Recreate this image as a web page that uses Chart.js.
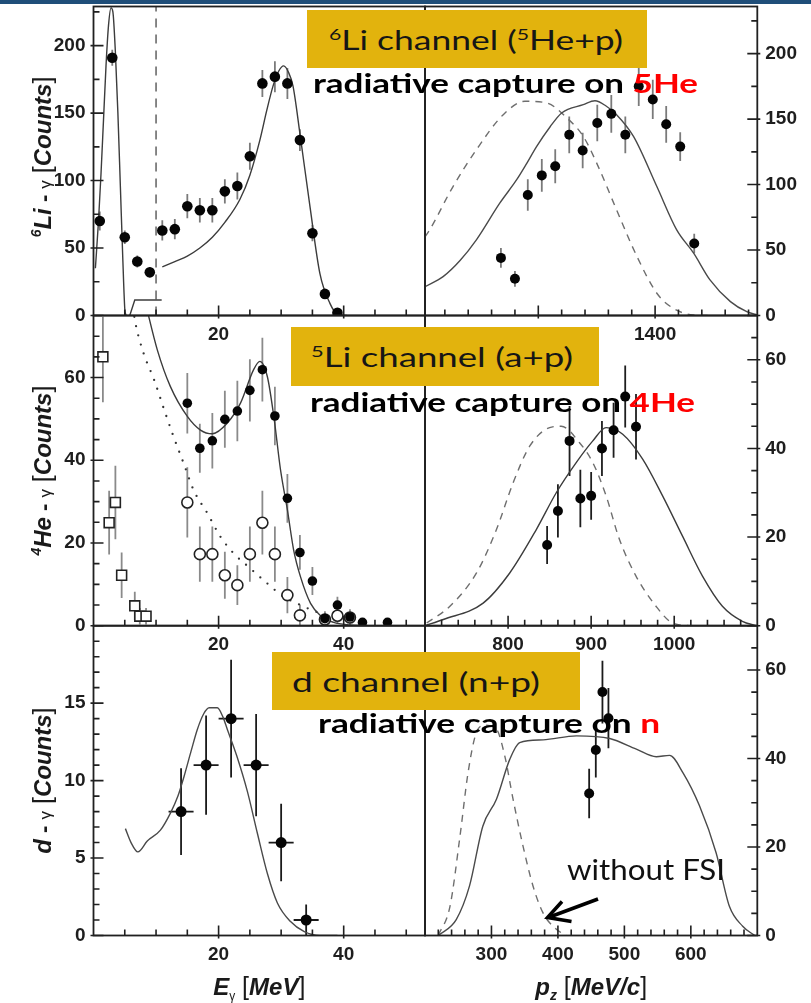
<!DOCTYPE html>
<html>
<head>
<meta charset="utf-8">
<script src="https://cdn.jsdelivr.net/npm/chart.js@4.4.1/dist/chart.umd.min.js"></script>
<style>
  html, body { margin: 0; padding: 0; background: #fff; }
  body { width: 811px; height: 1003px; position: relative; overflow: hidden; }
  canvas.panel { position: absolute; left: 0; top: 0; }
  .topbar { position: absolute; left: 0; top: 0; width: 811px; height: 4px; background: #1f4e79; z-index: 5; }
  .tag { position: absolute; background: #e2b30d; display: flex; align-items: center; box-sizing: border-box;
         font-family: Lato, sans-serif; font-size: 27px; color: #161616; white-space: nowrap; z-index: 5; }
  .tag sup { font-size: 60%; vertical-align: 0.6em; line-height: 0; }
  .note { position: absolute; font-family: Lato, sans-serif; font-weight: bold; font-size: 26px; line-height: 1;
          color: #000; white-space: nowrap; z-index: 5; }
  .note .red { color: #ff0000; }
  .plain { position: absolute; font-family: Lato, sans-serif; font-size: 28px; line-height: 1; color: #111;
           white-space: nowrap; z-index: 5; }
  .fit { display: inline-block; transform-origin: 0 50%; }
  svg.arrow { position: absolute; left: 0; top: 0; z-index: 5; }
</style>
</head>
<body>
<canvas class="panel" id="liE" width="811" height="1003"></canvas>
<canvas class="panel" id="liP" width="811" height="1003"></canvas>
<canvas class="panel" id="heE" width="811" height="1003"></canvas>
<canvas class="panel" id="heP" width="811" height="1003"></canvas>
<canvas class="panel" id="dE" width="811" height="1003"></canvas>
<canvas class="panel" id="dP" width="811" height="1003"></canvas>

<div class="topbar"></div>

<div class="tag" style="left:307px;top:10px;width:340px;height:58px;padding-left:22px">
  <span class="fit" data-w="294"><sup>6</sup>Li channel (<sup>5</sup>He+p)</span></div>
<div class="note" style="left:313px;top:70px"><span class="fit" data-w="385">radiative capture on <span class="red">5He</span></span></div>

<div class="tag" style="left:291px;top:327px;width:308px;height:59px;padding-left:20px">
  <span class="fit" data-w="262"><sup>5</sup>Li channel (a+p)</span></div>
<div class="note" style="left:310px;top:389px"><span class="fit" data-w="385">radiative capture on <span class="red">4He</span></span></div>

<div class="tag" style="left:272px;top:652px;width:308px;height:58px;padding-left:20px">
  <span class="fit" data-w="248">d channel (n+p)</span></div>
<div class="note" style="left:318px;top:710px"><span class="fit" data-w="342">radiative capture on <span class="red">n</span></span></div>

<div class="plain" style="left:567px;top:855px"><span class="fit" data-w="158">without FSI</span></div>
<svg class="arrow" width="811" height="1003">
  <line x1="598" y1="899" x2="551" y2="916.5" stroke="#000" stroke-width="3.5"/>
  <polyline points="562,901.5 547.5,917.5 571.5,921.5" fill="none" stroke="#000" stroke-width="3.5"/>
</svg>

<script>
// ---------- 6Li channel ----------
const liEnergy = [1, 3, 5, 7, 9, 11, 13, 15, 17, 19, 21, 23, 25, 27, 29, 31, 33, 35, 37, 39];
const liCounts = [70, 191, 58, 40, 32, 63, 64, 81, 78, 78, 92, 96, 118, 172, 177, 172, 130, 61, 16, 2];
const liErrors = [7, 6, 5, 4.5, 4, 7.5, 7.5, 9, 9, 9, 9, 10, 10, 10, 11.5, 11.5, 8, 6, 3, 1.5];
const liPeakFitE = [0.3, 0.8, 1.2, 1.6, 2.0, 2.4, 2.8, 3.1, 3.5, 3.9, 4.3, 4.7, 5.0, 5.2];
const liPeakFitC = [35, 70, 105, 145, 185, 215, 228, 225, 195, 150, 95, 40, 5, 0];
const liStepE = [5.8, 6.6, 10.9];
const liStepC = [0, 11.5, 11.5];
const liFitE = [11, 13, 15, 17, 19, 21, 23.4, 25, 26.6, 27.7, 28.7, 29.6, 30.4, 31.2, 31.9, 33, 34.6, 36.2, 37.8, 39, 40.5];
const liFitC = [36, 40, 44, 50, 58, 69, 86, 104, 130, 152, 170, 181, 185, 180, 170, 135, 81, 31, 9, 1, 0];
const liCutE = [10, 10];
const liCutC = [0, 229];

const liMom = [1136, 1160, 1182, 1206, 1229, 1253, 1276, 1301, 1325, 1349, 1372, 1396, 1419, 1443, 1467];
const liMomCounts = [44, 28, 92, 107, 114, 138, 126, 147, 154, 138, 175, 165, 146, 129, 55];
const liMomErrors = [7.5, 6, 12, 12.5, 13, 14, 13.5, 14, 14.5, 14, 15, 15, 14, 11, 7.5];
const liMomFsiP = [1006, 1037, 1066, 1094, 1134, 1163, 1180, 1197, 1220, 1240, 1277, 1297, 1316, 1334, 1363, 1403, 1437, 1466, 1494, 1529, 1557, 1575];
const liMomFsiC = [22, 29.7, 42, 57.8, 85.8, 103.7, 116, 129, 144, 154.7, 161, 164, 160, 153.4, 136.8, 98.5, 65.4, 47.6, 27.2, 10.6, 2.9, 0.4];
const liMomNoFsiP = [1006, 1014, 1054, 1094, 1140, 1177, 1214, 1249, 1277, 1300, 1334, 1369, 1403, 1431, 1465, 1490];
const liMomNoFsiC = [60, 65.4, 98.5, 126.6, 153.4, 163.6, 162.4, 150.9, 136.8, 116.4, 80.7, 45, 17, 5.5, 0.4, 0];

// ---------- 5Li channel ----------
const heEnergy = [15, 17, 19, 21, 23, 25, 27, 29, 31, 33, 35, 37, 39, 41, 43, 47];
const heCounts = [53.8, 42.9, 44.7, 49.9, 51.9, 56.9, 61.9, 50.7, 30.8, 17.7, 10.8, 1.7, 5, 2.1, 0.8, 0.8];
const heErrors = [7.3, 5.9, 6.7, 6.9, 7.3, 7.5, 7.7, 7.1, 5.9, 4.2, 3.4, 1.5, 2, 1.5, 1, 1];
const heOpenE = [15, 17, 19, 21, 23, 25, 27, 29, 31, 33, 37, 39, 41];
const heOpenC = [29.8, 17.3, 17.3, 12.2, 9.8, 17.3, 24.9, 17.3, 7.4, 2.5, 1.5, 2.4, 2];
const heOpenErr = [8.5, 6.7, 6.7, 5.7, 4.8, 6.7, 7.7, 6.7, 4.4, 2.6, 2, 2, 2];
const heSquareE = [1.5, 2.5, 3.5, 4.5, 6.6, 7.4, 8.4];
const heSquareC = [65, 24.9, 29.8, 12.2, 4.8, 2.3, 2.3];
const heSquareErr = [11, 7.7, 8.9, 5.5, 3.4, 2, 2];
const heFitE = [8.3, 10.2, 12.3, 15, 17.1, 19, 21.4, 23.5, 25.6, 26.6, 27.8, 28.9, 29.9, 31, 32, 33.1, 34.7, 36.3, 38.4, 41, 44];
const heFitC = [78, 66.7, 57.8, 50.6, 47.3, 46.4, 49, 53.8, 61.9, 63.9, 60.2, 49.8, 37.7, 28, 18.3, 11.8, 5.4, 2.4, 0.8, 0.2, 0];
const heBgE = [6.3, 6.7, 8, 9.7, 11.3, 12.8, 14.4, 16, 18.2, 20.3, 22.4, 25.1, 27.8, 30.4, 33.1, 35.7, 38.4, 41];
const heBgC = [77, 73.2, 65.9, 59.4, 52.2, 45.7, 39.3, 32.8, 27.2, 21.5, 17.5, 13.8, 10.2, 7, 5, 3.3, 2.1, 1.2];

const heMom = [847, 860, 874, 887, 900, 913, 927, 941, 954];
const heMomCounts = [18.2, 25.9, 41.7, 28.7, 29.3, 40, 44.1, 51.7, 44.9];
const heMomErrors = [4.3, 6, 7.9, 6.5, 5.4, 6.2, 6.2, 7, 7.4];
const heMomFsiP = [700, 722, 770, 802, 834, 858, 882, 902, 918, 938, 962, 986, 1010, 1034, 1058, 1082, 1099];
const heMomFsiC = [0, 1.4, 5.1, 11.9, 21.7, 30, 36.8, 41.7, 44.7, 43.2, 37.6, 29.3, 20.2, 11.2, 4.4, 1, 0];
const heMomNoFsiP = [702, 730, 762, 786, 806, 826, 850, 864, 886, 902, 918, 934, 954, 978, 998, 1018];
const heMomNoFsiC = [0.6, 4.4, 11.9, 21.7, 32.2, 40.5, 44.7, 45, 41.3, 36.8, 29.3, 19.5, 11.2, 4.4, 0.6, 0];

// ---------- d channel ----------
const dEnergy = [14, 18, 22, 26, 30, 34];
const dCounts = [8, 11, 14, 11, 6, 1];
const dErrors = [2.8, 3.2, 3.8, 3.3, 2.5, 1];
const dBinHalf = [2, 2, 2, 2, 2, 2];
const dFitE = [5.1, 6, 7.1, 8.6, 10.7, 12.3, 13.5, 14.5, 15.6, 16.6, 17.6, 18.5, 19.8, 20.7, 21.4, 22.9, 24.6, 26.2, 27.8, 29.4, 31.5, 33.7, 36.2, 39];
const dFitC = [6.9, 6.0, 5.4, 6.1, 6.8, 7.9, 9.0, 10.3, 11.9, 13.3, 14.3, 14.7, 14.7, 14.1, 13.3, 11.6, 9.3, 6.6, 4.0, 2.1, 0.9, 0.25, 0, 0];

const dMom = [447, 457, 467, 476];
const dMomCounts = [32.1, 41.9, 55, 49.1];
const dMomErrors = [5.6, 6.2, 7.1, 6.8];
const dMomFsiP = [220, 247, 267, 287, 307.5, 327.5, 342.5, 377.6, 427.8, 478, 518, 548, 568, 588, 613, 638, 658, 678, 696];
const dMomFsiC = [0, 3.6, 11.2, 24.7, 30.8, 39.8, 43.6, 44.2, 45.1, 44.5, 42.1, 40.4, 40.7, 36.8, 29.3, 18.7, 6.6, 2.1, 0];
const dMomNoFsiP = [220, 237.6, 252.7, 264.8, 277.4, 290, 307.5, 320, 332.5, 347.5, 362.5, 377.6, 397.7, 412.8];
const dMomNoFsiC = [0, 6.6, 22.5, 36.8, 45.9, 47.5, 46.6, 40.6, 30.8, 20.2, 11.2, 5.1, 1.4, 0];

// ---------- tick labels ----------
const energyTicks = [20, 40];
const liMomTicks = [1200, 1400];
const heMomTicks = [800, 900, 1000];
const dMomTicks = [300, 400, 500, 600];
const liCountTicks = [0, 50, 100, 150, 200];
const heCountTicks = [0, 20, 40, 60];
const dCountTicks = [0, 5, 10, 15];

const pts = (xs, ys) => xs.map((x, i) => ({ x, y: ys[i] }));
const steps = (lo, hi, st) => { const a = []; for (let v = lo; v <= hi + 1e-9; v += st) a.push(v); return a; };

const TICK_FONT = { family: '"Liberation Sans", Arial, sans-serif', size: 19, weight: 'bold' };
const FAM = '"Liberation Sans", Arial, sans-serif';

// frame box and inward tick marks
const frameTicks = {
  id: 'frameTicks',
  afterDraw(chart, args, o) {
    const { ctx, chartArea: a, scales: { x, y } } = chart;
    ctx.save();
    ctx.strokeStyle = '#202020';
    ctx.lineWidth = 1.8;
    ctx.strokeRect(a.left, a.top, a.right - a.left, a.bottom - a.top);
    ctx.lineWidth = 1.6;
    ctx.beginPath();
    o.xMajor.forEach(v => { const p = x.getPixelForValue(v); ctx.moveTo(p, a.bottom + 3); ctx.lineTo(p, a.bottom - 10); });
    o.xMinor.forEach(v => { const p = x.getPixelForValue(v); ctx.moveTo(p, a.bottom); ctx.lineTo(p, a.bottom - 6); });
    const edge = o.yRight ? a.right : a.left, dir = o.yRight ? -1 : 1;
    o.yMajor.forEach(v => { const p = y.getPixelForValue(v); ctx.moveTo(edge - 3 * dir, p); ctx.lineTo(edge + 10 * dir, p); });
    o.yMinor.forEach(v => { const p = y.getPixelForValue(v); ctx.moveTo(edge, p); ctx.lineTo(edge + 6 * dir, p); });
    ctx.stroke();
    ctx.restore();
  }
};

// vertical (and optional horizontal) error bars, drawn under the markers
const errorBars = {
  id: 'errorBars',
  beforeDatasetsDraw(chart) {
    const { ctx, chartArea: a, scales: { x, y } } = chart;
    ctx.save();
    ctx.beginPath();
    ctx.rect(a.left, a.top, a.right - a.left, a.bottom - a.top);
    ctx.clip();
    chart.data.datasets.forEach(ds => {
      if (!ds.errors) return;
      ctx.strokeStyle = ds.errorColor || '#222';
      ctx.lineWidth = ds.errorWidth || 1.8;
      ctx.beginPath();
      ds.data.forEach((p, i) => {
        const px = x.getPixelForValue(p.x), py = y.getPixelForValue(p.y);
        ctx.moveTo(px, y.getPixelForValue(p.y - ds.errors[i]));
        ctx.lineTo(px, y.getPixelForValue(p.y + ds.errors[i]));
        if (ds.xErrors) {
          ctx.moveTo(x.getPixelForValue(p.x - ds.xErrors[i]), py);
          ctx.lineTo(x.getPixelForValue(p.x + ds.xErrors[i]), py);
        }
      });
      ctx.stroke();
    });
    ctx.restore();
  }
};

// axis titles with mixed fonts (sub/superscripts)
function richWidth(ctx, parts) {
  return parts.reduce((w, p) => { ctx.font = p.f; return w + ctx.measureText(p.t).width; }, 0);
}
function drawRich(ctx, parts, start) {
  let x = start;
  parts.forEach(p => { ctx.font = p.f; ctx.fillText(p.t, x, p.dy || 0); x += ctx.measureText(p.t).width; });
}
const richTitles = {
  id: 'richTitles',
  afterDraw(chart, args, o) {
    const { ctx, chartArea: a } = chart;
    ctx.save();
    ctx.fillStyle = '#1a1a1a';
    ctx.textBaseline = 'alphabetic';
    ctx.textAlign = 'left';
    if (o.y) {
      const w = richWidth(ctx, o.y.parts);
      ctx.save();
      ctx.translate(o.y.x, (a.top + a.bottom) / 2 + (o.y.shift || 0));
      ctx.rotate(-Math.PI / 2);
      drawRich(ctx, o.y.parts, -w / 2);
      ctx.restore();
    }
    if (o.x) {
      const w = richWidth(ctx, o.x.parts);
      ctx.save();
      ctx.translate((a.left + a.right) / 2, o.x.y);
      drawRich(ctx, o.x.parts, -w / 2);
      ctx.restore();
    }
    ctx.restore();
  }
};

const BI = s => `italic bold ${s}px ${FAM}`;
const B = s => `bold ${s}px ${FAM}`;
const N = s => `${s}px ${FAM}`;
const yTitle = (sup, nucl) => [
  { t: sup, f: BI(14), dy: -10 }, { t: nucl, f: BI(24) }, { t: ' - ', f: B(22) }, { t: 'γ', f: N(17) },
  { t: ' [', f: N(25) }, { t: 'Counts', f: BI(24) }, { t: ']', f: N(25) }
];
const eTitle = [{ t: 'E', f: BI(24) }, { t: 'γ', f: N(12), dy: 5 }, { t: ' [', f: N(25) }, { t: 'MeV', f: BI(24) }, { t: ']', f: N(25) }];
const pTitle = [{ t: 'p', f: BI(24) }, { t: 'z', f: BI(14), dy: 5 }, { t: ' [', f: N(25) }, { t: 'MeV/c', f: BI(24) }, { t: ']', f: N(25) }];

// marker / curve styles
const filled = (data, errors, r, errColor) => ({
  data, errors, errorColor: errColor, showLine: false, pointRadius: r, pointBorderWidth: 0,
  pointBackgroundColor: '#050505', pointBorderColor: '#050505'
});
const hollow = (data, errors, r, style) => ({
  data, errors, errorColor: '#8a8a8a', showLine: false, pointRadius: r, pointStyle: style || 'circle',
  pointBorderWidth: 1.6, pointBackgroundColor: '#fff', pointBorderColor: '#222'
});
const curve = (data, color, dash, width, extra) => Object.assign({
  data, borderColor: color, borderWidth: width || 1.4, borderDash: dash || [], pointRadius: 0,
  cubicInterpolationMode: 'monotone', fill: false
}, extra || {});

const Y_W = 50, X_H = 40;
function panel(id, p) {
  const padding = {
    left: p.yRight ? p.L : p.L - Y_W,
    right: p.yRight ? 811 - p.R - Y_W : 811 - p.R,
    top: p.T,
    bottom: 1003 - p.B - X_H
  };
  const tickCb = v => String(v);
  new Chart(document.getElementById(id), {
    type: 'line',
    data: { datasets: p.datasets },
    plugins: [errorBars, frameTicks, richTitles],
    options: {
      responsive: false, animation: false, events: [],
      layout: { autoPadding: false, padding },
      plugins: {
        legend: { display: false }, tooltip: { enabled: false },
        frameTicks: { xMajor: p.xTicks, xMinor: p.xMinor, yMajor: p.yTicks, yMinor: p.yMinor, yRight: p.yRight },
        richTitles: p.titles || {}
      },
      scales: {
        x: {
          type: 'linear', position: 'bottom', min: p.xMin, max: p.xMax,
          grid: { display: false, drawTicks: false }, border: { display: false },
          ticks: { font: TICK_FONT, color: '#1e1e1e', padding: 8, maxRotation: 0, autoSkip: false, callback: tickCb },
          afterBuildTicks: s => { s.ticks = p.xTicks.map(v => ({ value: v })); },
          afterFit: s => { s.height = X_H; s.paddingLeft = s.paddingRight = 0; }
        },
        y: {
          type: 'linear', position: p.yRight ? 'right' : 'left', min: 0, max: p.yMax,
          grid: { display: false, drawTicks: false }, border: { display: false },
          ticks: { font: TICK_FONT, color: '#1e1e1e', padding: 8, autoSkip: false, callback: tickCb },
          afterBuildTicks: s => { s.ticks = p.yTicks.map(v => ({ value: v })); },
          afterFit: s => { s.width = Y_W; s.paddingTop = s.paddingBottom = 0; }
        }
      }
    }
  });
}

const ROW = [6.5, 315.5, 625.7, 935.5];
const COL = [93.5, 425, 757.3];

panel('liE', {
  L: COL[0], R: COL[1], T: ROW[0], B: ROW[1], xMin: 0, xMax: 53, yMax: 229,
  xTicks: energyTicks, xMinor: steps(5, 50, 5), yTicks: liCountTicks, yMinor: steps(25, 225, 25),
  titles: { y: { parts: yTitle('6', 'Li'), x: 51, shift: -4 } },
  datasets: [
    filled(pts(liEnergy, liCounts), liErrors, 5.3, '#7a7a7a'),
    curve(pts(liPeakFitE, liPeakFitC), '#3c3c3c'),
    curve(pts(liStepE, liStepC), '#3c3c3c', [], 1.4, { cubicInterpolationMode: 'default', tension: 0 }),
    curve(pts(liFitE, liFitC), '#3c3c3c'),
    curve(pts(liCutE, liCutC), '#555', [9, 7], 1.4, { cubicInterpolationMode: 'default', tension: 0 })
  ]
});

panel('liP', {
  L: COL[1], R: COL[2], T: ROW[0], B: ROW[1], xMin: 1006, xMax: 1575, yMax: 236, yRight: true,
  xTicks: liMomTicks, xMinor: steps(1040, 1560, 40), yTicks: liCountTicks, yMinor: steps(25, 225, 25),
  datasets: [
    filled(pts(liMom, liMomCounts), liMomErrors, 5, '#7a7a7a'),
    curve(pts(liMomFsiP, liMomFsiC), '#4a4a4a'),
    curve(pts(liMomNoFsiP, liMomNoFsiC), '#6e6e6e', [7, 6])
  ]
});

panel('heE', {
  L: COL[0], R: COL[1], T: ROW[1], B: ROW[2], xMin: 0, xMax: 53, yMax: 75,
  xTicks: energyTicks, xMinor: steps(5, 50, 5), yTicks: heCountTicks, yMinor: steps(5, 70, 5),
  titles: { y: { parts: yTitle('4', 'He'), x: 51 } },
  datasets: [
    filled(pts(heEnergy, heCounts), heErrors, 4.8, '#8a8a8a'),
    hollow(pts(heOpenE, heOpenC), heOpenErr, 5.5),
    hollow(pts(heSquareE, heSquareC), heSquareErr, 7, 'rect'),
    curve(pts(heFitE, heFitC), '#3c3c3c'),
    curve(pts(heBgE, heBgC), '#333', [0, 9.5], 2.3, { borderCapStyle: 'round' })
  ]
});

panel('heP', {
  L: COL[1], R: COL[2], T: ROW[1], B: ROW[2], xMin: 700, xMax: 1100, yMax: 70, yRight: true,
  xTicks: heMomTicks, xMinor: steps(720, 1080, 20), yTicks: heCountTicks, yMinor: steps(5, 65, 5),
  datasets: [
    filled(pts(heMom, heMomCounts), heMomErrors, 5, '#1e1e1e'),
    curve(pts(heMomFsiP, heMomFsiC), '#3c3c3c'),
    curve(pts(heMomNoFsiP, heMomNoFsiC), '#6e6e6e', [7, 6])
  ]
});

const dSet = filled(pts(dEnergy, dCounts), dErrors, 5.5, '#1a1a1a');
dSet.xErrors = dBinHalf;
panel('dE', {
  L: COL[0], R: COL[1], T: ROW[2], B: ROW[3], xMin: 0, xMax: 53, yMax: 20,
  xTicks: energyTicks, xMinor: steps(5, 50, 5), yTicks: dCountTicks, yMinor: steps(1, 19, 1),
  titles: { y: { parts: yTitle('', 'd'), x: 51 }, x: { parts: eTitle, y: 995 } },
  datasets: [
    dSet,
    curve(pts(dFitE, dFitC), '#4a4a4a')
  ]
});

panel('dP', {
  L: COL[1], R: COL[2], T: ROW[2], B: ROW[3], xMin: 200, xMax: 700, yMax: 70, yRight: true,
  xTicks: dMomTicks, xMinor: steps(220, 680, 20), yTicks: heCountTicks, yMinor: steps(5, 65, 5),
  titles: { x: { parts: pTitle, y: 995 } },
  datasets: [
    filled(pts(dMom, dMomCounts), dMomErrors, 5, '#1a1a1a'),
    curve(pts(dMomFsiP, dMomFsiC), '#4a4a4a'),
    curve(pts(dMomNoFsiP, dMomNoFsiC), '#6e6e6e', [7, 6])
  ]
});

// stretch overlay labels to their box widths
document.querySelectorAll('.fit').forEach(el => {
  const w = el.getBoundingClientRect().width;
  el.style.transform = `scaleX(${(+el.dataset.w / w).toFixed(3)})`;
});
</script>
</body>
</html>
